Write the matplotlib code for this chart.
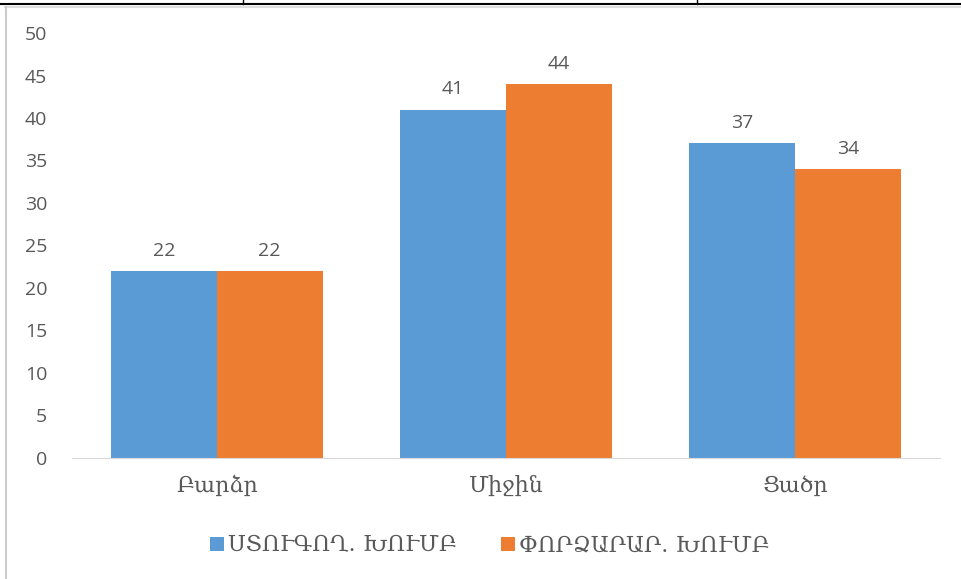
import matplotlib.pyplot as plt
import numpy as np
from matplotlib.lines import Line2D

categories = ['Բարձր', 'Միջին', 'Ցածր']
control = [22, 41, 37]
experimental = [22, 44, 34]
series_names = ['ՍՏՈՒԳՈՂ. ԽՈՒՄԲ', 'ՓՈՐՁԱՐԱՐ. ԽՈՒՄԲ']
yticks = [0, 5, 10, 15, 20, 25, 30, 35, 40, 45, 50]

blue = '#5B9BD5'
orange = '#ED7D31'
grey = '#595959'
num_font = ['Open Sans', 'DejaVu Sans']
arm_font = ['DejaVu Serif', 'DejaVu Sans']

fig = plt.figure(figsize=(9.61, 5.79), dpi=100)
ax = fig.add_axes([0.075, 0.209, 0.903, 0.734])

x = np.arange(len(categories))
w = 0.366
b1 = ax.bar(x - w / 2, control, w, color=blue, label=series_names[0])
b2 = ax.bar(x + w / 2, experimental, w, color=orange, label=series_names[1])

for bars in (b1, b2):
    for r in bars:
        ax.annotate(f'{r.get_height():g}', (r.get_x() + r.get_width() / 2, r.get_height()),
                    xytext=(0, 8), textcoords='offset points', ha='center', va='bottom',
                    fontsize=14, color=grey, family=num_font)

ax.set_xlim(-0.5, 2.5)
ax.set_ylim(0, 50)
ax.set_yticks(yticks)
ax.set_yticklabels([str(t) for t in yticks], family=num_font, fontsize=14, color=grey)
ax.set_xticks(x)
ax.set_xticklabels(categories, family=arm_font, fontsize=16, color=grey)
ax.tick_params(length=0)
ax.tick_params(axis='y', pad=18)
ax.tick_params(axis='x', pad=12)
for s in ['top', 'right', 'left']:
    ax.spines[s].set_visible(False)
ax.spines['bottom'].set_color('#D9D9D9')

leg = fig.legend(handles=[b1, b2], loc='center', bbox_to_anchor=(0.51, 0.058), ncol=2,
                 frameon=False, handlelength=0.6, handleheight=0.6, handletextpad=0.2,
                 columnspacing=2.0, prop={'family': arm_font, 'size': 16})
for t in leg.get_texts():
    t.set_color(grey)

# page borders around the chart
fig.add_artist(Line2D([0, 1], [0.993, 0.993], color='black', lw=1.5))
fig.add_artist(Line2D([0.005, 1], [0.988, 0.988], color='#DDDDDD', lw=1.5))
fig.add_artist(Line2D([0.006, 0.006], [0, 0.988], color='#CCCCCC', lw=1.5))
for xp in [243 / 961, 697 / 961]:
    fig.add_artist(Line2D([xp, xp], [0.993, 1], color='black', lw=1))

fig.savefig('out.png', dpi=100)
